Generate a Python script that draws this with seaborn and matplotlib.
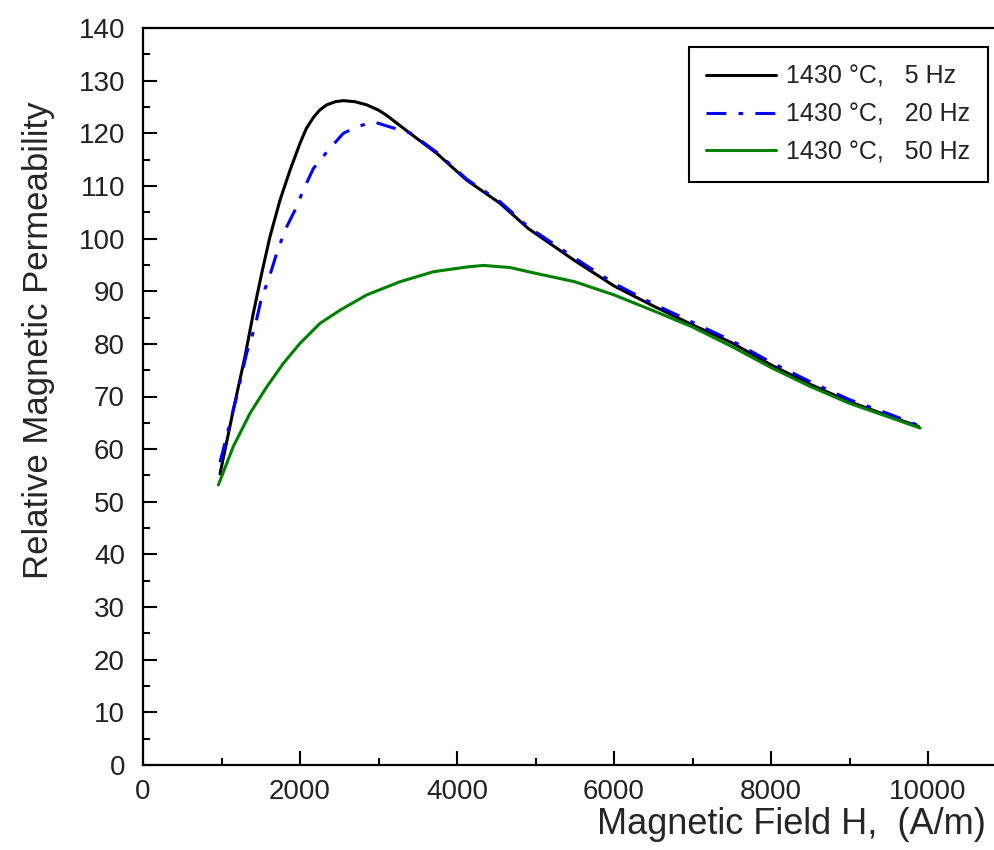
import matplotlib
matplotlib.use("Agg")
import matplotlib.pyplot as plt
from matplotlib.ticker import MultipleLocator
import seaborn as sns
import pandas as pd

# datos
h_5hz = [981, 1150, 1299, 1405, 1512, 1618, 1745, 1873, 2000, 2080, 2170, 2250, 2340,
         2450, 2552, 2700, 2850, 3000, 3104, 3401, 3741, 4123, 4548, 4909, 5500,
         6000, 6500, 7000, 7500, 8000, 8500, 9000, 9500, 9880]
mu_5hz = [55.3, 67.4, 77.6, 85.8, 93.4, 100.4, 107.3, 113.0, 118.1, 120.9, 123.0, 124.4, 125.4,
          126.0, 126.2, 126.0, 125.4, 124.4, 123.4, 120.0, 116.2, 111.1, 106.7, 101.9, 95.8,
          91.0, 87.2, 83.6, 80.2, 76.0, 72.3, 69.0, 66.3, 64.3]

h_20hz = [981, 1193, 1320, 1427, 1512, 1597, 1703, 1809, 1936, 2042, 2170, 2361,
          2552, 2722, 2934, 3146, 3401, 3741, 4123, 4548, 4909, 5500, 6000, 6500,
          7000, 7500, 8000, 8500, 9000, 9500, 9880]
mu_20hz = [57.5, 70.0, 78.2, 83.3, 88.9, 92.1, 97.2, 101.6, 105.4, 109.2, 113.3, 116.8,
           120.0, 121.2, 122.2, 121.2, 120.1, 116.4, 111.3, 107.0, 102.2, 96.3, 91.5, 87.6,
           84.1, 80.6, 76.5, 72.8, 69.4, 66.7, 64.5]

h_50hz = [960, 1150, 1363, 1575, 1788, 2000, 2255, 2510, 2850, 3274, 3699, 4123,
          4335, 4675, 4909, 5500, 6000, 6500, 7000, 7500, 8000, 8500, 9000, 9500, 9900]
mu_50hz = [53.2, 60.5, 66.8, 71.8, 76.3, 80.1, 83.9, 86.4, 89.3, 91.8, 93.7, 94.6,
           94.9, 94.5, 93.7, 91.8, 89.3, 86.3, 83.2, 79.5, 75.5, 71.9, 68.7, 66.1, 64.0]

etiquetas = ["1430 °C,   5 Hz", "1430 °C,   20 Hz", "1430 °C,   50 Hz"]
colores = ["black", "#0000ff", "#008000"]

sns.set_style("ticks")
plt.rcParams['font.family'] = ['Liberation Sans', 'DejaVu Sans']
plt.rcParams['text.color'] = '#222222'

fig = plt.figure(figsize=(9.94, 8.5), dpi=100)
ax = fig.add_axes([143 / 994, 85 / 850, 851 / 994, 737 / 850])

series = [(h_5hz, mu_5hz), (h_20hz, mu_20hz), (h_50hz, mu_50hz)]
estilos = ['-', (0, (6.5, 4, 1.5, 4)), '-']
for (h, mu), lab, col, ls in zip(series, etiquetas, colores, estilos):
    df = pd.DataFrame({'H': h, 'mu': mu})
    sns.lineplot(data=df, x='H', y='mu', ax=ax, color=col, lw=2.2,
                 linestyle=ls, label=lab, estimator=None, sort=False)

ax.set_xlim(0, 10840)
ax.set_ylim(0, 140)
ax.xaxis.set_major_locator(MultipleLocator(2000))
ax.xaxis.set_minor_locator(MultipleLocator(1000))
ax.yaxis.set_major_locator(MultipleLocator(10))
ax.yaxis.set_minor_locator(MultipleLocator(5))
ax.tick_params(which='both', direction='in', width=1.5, color='black',
               labelsize=20, labelcolor='#222222')
ax.tick_params(axis='y', which='major', length=10, pad=13)
ax.tick_params(axis='x', which='major', length=10, pad=10)
ax.tick_params(which='minor', length=5)
for lado in ['left', 'bottom', 'top']:
    ax.spines[lado].set_linewidth(1.6)
    ax.spines[lado].set_color('black')
ax.spines['right'].set_visible(False)

ax.set_xlabel('Magnetic Field H,  (A/m)', fontsize=26, loc='right')
ax.xaxis.set_label_coords(0.99, -0.057)
ax.set_ylabel('Relative Magnetic Permeability', fontsize=25)
ax.yaxis.set_label_coords(-0.103, 0.577)

leg = ax.legend(loc='upper right', bbox_to_anchor=(0.993, 0.974), borderaxespad=0,
                fontsize=18, handlelength=2.8, handletextpad=0.4, labelspacing=0.55,
                borderpad=0.7, fancybox=False, framealpha=1)
leg.get_frame().set_edgecolor('black')
leg.get_frame().set_linewidth(1.5)

fig.savefig('out.png', dpi=100)
